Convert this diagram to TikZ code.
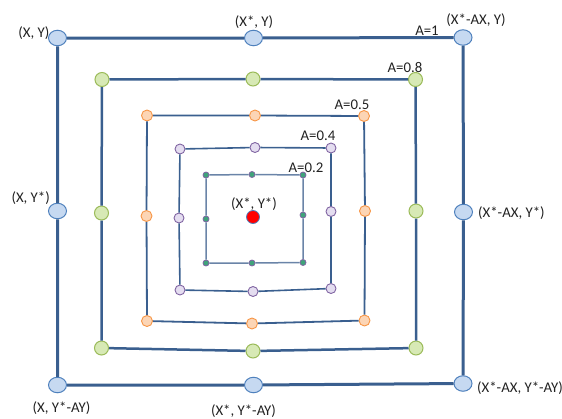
\documentclass[tikz,border=0pt]{standalone}
\usepackage{fontspec}
\setmainfont{Carlito}
\usetikzlibrary{shapes.geometric}
\definecolor{edgeblue}{HTML}{3A5F8F}
\definecolor{innerblue}{HTML}{6A84A8}
\definecolor{bluefill}{HTML}{C6D9F1}
\definecolor{blueline}{HTML}{4F81BD}
\definecolor{greenfill}{HTML}{D7E9B5}
\definecolor{greenline}{HTML}{9BBB59}
\definecolor{orangefill}{HTML}{FCD5B5}
\definecolor{orangeline}{HTML}{F79646}
\definecolor{purplefill}{HTML}{E4DDF0}
\definecolor{purpleline}{HTML}{8064A2}
\definecolor{tealfill}{HTML}{3FA37A}
\definecolor{txt}{HTML}{222222}
\tikzset{
  bdot/.style={ellipse,draw=blueline,fill=bluefill,line width=1pt,minimum width=18pt,minimum height=15.5pt,inner sep=0pt},
  gdot/.style={circle,draw=greenline,fill=greenfill,line width=1pt,minimum size=14pt,inner sep=0pt},
  odot/.style={circle,draw=orangeline,fill=orangefill,line width=0.9pt,minimum size=11pt,inner sep=0pt},
  pdot/.style={circle,draw=purpleline,fill=purplefill,line width=0.9pt,minimum size=10pt,inner sep=0pt},
  sdot/.style={circle,draw=purpleline,fill=tealfill,line width=0.8pt,minimum size=6pt,inner sep=0pt},
  rdot/.style={circle,draw=blueline,fill=red,line width=0.8pt,minimum size=13pt,inner sep=0pt},
  lab/.style={text=txt,font=\fontsize{14.8}{17}\selectfont,inner sep=0pt},
  e1/.style={draw=edgeblue,line width=3pt},
  e2/.style={draw=edgeblue,line width=2.5pt},
  e3/.style={draw=edgeblue,line width=1.8pt},
  e4/.style={draw=edgeblue,line width=1.6pt},
  e5/.style={draw=innerblue,line width=1.5pt},
}
\begin{document}
\begin{tikzpicture}[x=1pt,y=-1pt]
\useasboundingbox (0,0) rectangle (562,418);
% A=1
\node[bdot] (a1) at (57.5,38) {};
\node[bdot] (a2) at (253.5,38) {};
\node[bdot] (a3) at (463,37.5) {};
\node[bdot] (a4) at (463.5,212) {};
\node[bdot] (a5) at (463,383.5) {};
\node[bdot] (a6) at (253.5,385) {};
\node[bdot] (a7) at (57.5,385) {};
\node[bdot] (a8) at (57.5,211) {};
\draw[e1] (a1) -- (a2) -- (a3) -- (a4) -- (a5) -- (a6) -- (a7) -- (a8) -- (a1);
% A=0.8
\node[gdot] (b1) at (102,79.5) {};
\node[gdot] (b2) at (253,79) {};
\node[gdot] (b3) at (415.5,79.5) {};
\node[gdot] (b4) at (416,211) {};
\node[gdot] (b5) at (416,348) {};
\node[gdot] (b6) at (253,351) {};
\node[gdot] (b7) at (101.5,348) {};
\node[gdot] (b8) at (101.5,213) {};
\draw[e2] (b1) -- (b2) -- (b3) -- (b4) -- (b5) -- (b6) -- (b7) -- (b8) -- (b1);
% A=0.5
\node[odot] (c1) at (147,115.5) {};
\node[odot] (c2) at (255,115.5) {};
\node[odot] (c3) at (364,116) {};
\node[odot] (c4) at (365,211) {};
\node[odot] (c5) at (364.5,320.5) {};
\node[odot] (c6) at (252,323.5) {};
\node[odot] (c7) at (147,321) {};
\node[odot] (c8) at (146.5,216) {};
\draw[e3] (c1) -- (c2) -- (c3) -- (c4) -- (c5) -- (c6) -- (c7) -- (c8) -- (c1);
% A=0.4
\node[pdot] (d1) at (180,149) {};
\node[pdot] (d2) at (255,147.5) {};
\node[pdot] (d3) at (331,148) {};
\node[pdot] (d4) at (331,211.5) {};
\node[pdot] (d5) at (331,288.5) {};
\node[pdot] (d6) at (253,291.5) {};
\node[pdot] (d7) at (180,290) {};
\node[pdot] (d8) at (179,218) {};
\draw[e4] (d1) -- (d2) -- (d3) -- (d4) -- (d5) -- (d6) -- (d7) -- (d8) -- (d1);
% A=0.2
\node[sdot] (s1) at (206,175) {};
\node[sdot] (s2) at (252,174.5) {};
\node[sdot] (s3) at (303,175) {};
\node[sdot] (s4) at (303,215) {};
\node[sdot] (s5) at (303,262.5) {};
\node[sdot] (s6) at (252,263) {};
\node[sdot] (s7) at (206,263) {};
\node[sdot] (s8) at (206,219) {};
\draw[e5] (s1) -- (s2) -- (s3) -- (s4) -- (s5) -- (s6) -- (s7) -- (s8) -- (s1);
% centre
\node[rdot] (ctr) at (253,217) {};
% labels
\node[lab,anchor=east] (l1) at (49.5,33) {(X, Y)};
\node[lab] (l2) at (254,22) {(X*, Y)};
\node[lab] (l3) at (476,20) {(X*-AX, Y)};
\node[lab] (l4) at (427,31) {A=1};
\node[lab] (l5) at (405,67) {A=0.8};
\node[lab] (l6) at (352,105) {A=0.5};
\node[lab] (l7) at (318,136) {A=0.4};
\node[lab] (l8) at (306,168) {A=0.2};
\node[lab] (l9) at (254,204) {(X*, Y*)};
\node[lab,anchor=east] (l10) at (50,198) {(X, Y*)};
\node[lab,anchor=west] (l11) at (478,213) {(X*-AX, Y*)};
\node[lab] (l12) at (61.5,408) {(X, Y*-AY)};
\node[lab] (l13) at (243.5,411) {(X*, Y*-AY)};
\node[lab,anchor=west] (l14) at (477,388) {(X*-AX, Y*-AY)};
\end{tikzpicture}
\end{document}
